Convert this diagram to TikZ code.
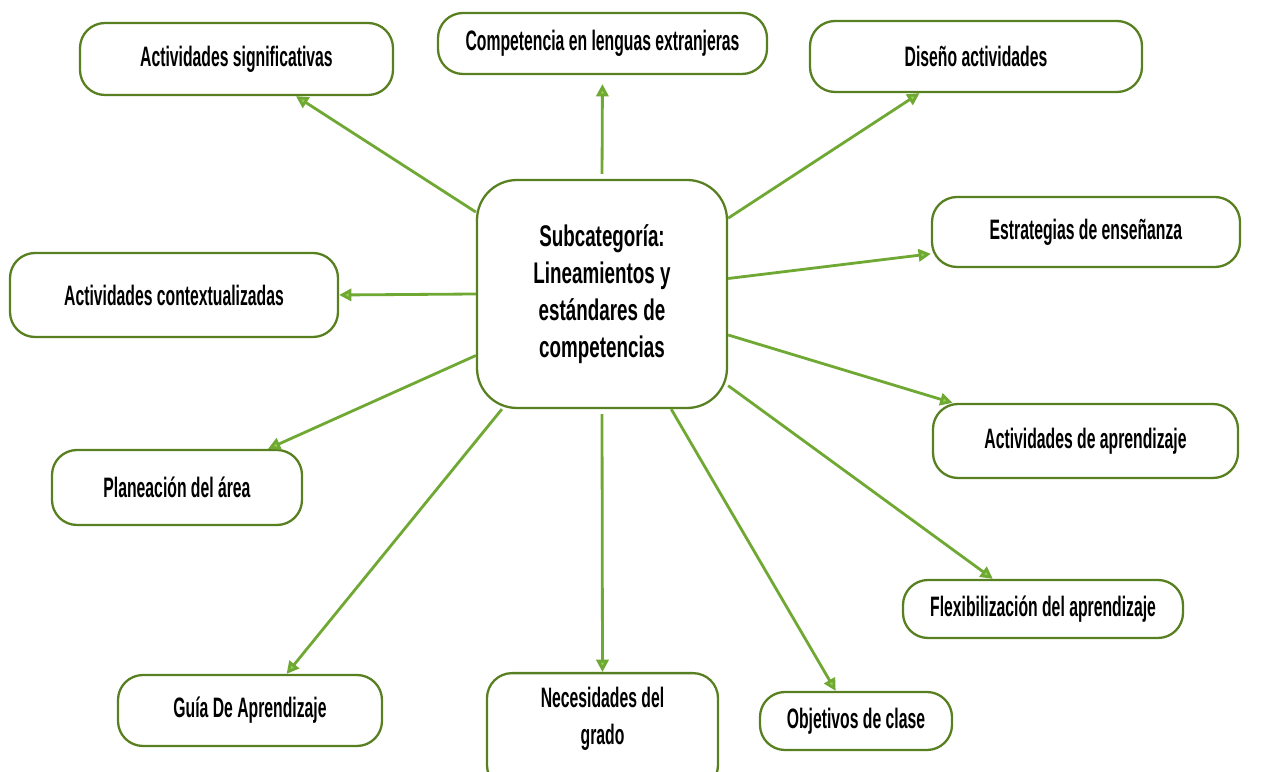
\documentclass[tikz,border=0pt]{standalone}
\usepackage{fontspec}
\setmainfont[FakeStretch=0.56]{Liberation Sans}
\newfontfamily\hubfont[FakeStretch=0.63]{Liberation Sans}
\usetikzlibrary{arrows.meta}

\definecolor{boxgreen}{RGB}{88,128,32}
\definecolor{arrowgreen}{RGB}{112,168,52}
\definecolor{tipgreen}{RGB}{146,208,80}

\begin{document}
\begin{tikzpicture}[
        idea/.style={draw=boxgreen, line width=1.3pt, rounded corners=0.5cm,
            fill=white, align=center, font=\fontsize{16}{21}\selectfont\bfseries},
        hub/.style={idea, rounded corners=0.8cm,
            font=\hubfont\fontsize{17}{21}\selectfont\bfseries},
        link/.style={draw=arrowgreen, line width=1.6pt,
            -{Triangle[length=7pt, width=7pt, fill=tipgreen]}}
    ]
        \useasboundingbox (0,0) rectangle (25.3,15.44);

        % Central subcategory
        \node[hub, minimum width=5cm, minimum height=4.56cm]
            (sub) at (12.04,9.56) {Subcategoría:\\Lineamientos y\\estándares de\\competencias};

        % Top row
        \node[idea, minimum width=6.26cm, minimum height=1.44cm] (sig) at (4.73,14.26) {Actividades significativas};
        \node[idea, minimum width=6.58cm, minimum height=1.22cm] (comp) at (12.05,14.57) {Competencia en lenguas extranjeras};
        \node[idea, minimum width=6.64cm, minimum height=1.42cm] (dis) at (19.52,14.31) {Diseño actividades};

        % Left side
        \node[idea, minimum width=6.56cm, minimum height=1.68cm] (ctx) at (3.48,9.54) {Actividades contextualizadas};
        \node[idea, minimum width=5cm, minimum height=1.5cm] (pla) at (3.54,5.69) {Planeación del área};

        % Right side
        \node[idea, minimum width=6.16cm, minimum height=1.4cm] (est) at (21.72,10.80) {Estrategias de enseñanza};
        \node[idea, minimum width=6.1cm, minimum height=1.48cm] (apr) at (21.71,6.62) {Actividades de aprendizaje};
        \node[idea, minimum width=5.6cm, minimum height=1.16cm] (flx) at (20.86,3.26) {Flexibilización del aprendizaje};

        % Bottom row
        \node[idea, minimum width=5.28cm, minimum height=1.42cm] (gui) at (5.0,1.23) {Guía De Aprendizaje};
        \node[idea, anchor=north, minimum width=4.62cm, inner ysep=8pt, text depth=18pt]
            (nec) at (12.05,2.0) {Necesidades del\\grado};
        \node[idea, minimum width=3.84cm, minimum height=1.16cm] (obj) at (17.12,1.02) {Objetivos de clase};

        % Arrows out of the centre
        \draw[link] (sub.147) -- (sig.328);
        \draw[link, shorten <=0.1cm, shorten >=0.18cm] (sub.north) -- (comp.south);
        \draw[link] (sub.31) -- (dis.213);
        \draw[link] (sub.7) -- (est.188);
        \draw[link] (sub.west) -- (ctx.east);
        \draw[link] (sub.206) -- (pla.23);
        \draw[link] (sub.229) -- (gui.45);
        \draw[link, shorten <=0.1cm] (sub.south) -- (nec.north);
        \draw[link] (sub.301) -- (obj.124);
        \draw[link] (sub.324) -- (flx.149);
        \draw[link] (sub.342) -- (apr.164);

    \end{tikzpicture}
\end{document}
